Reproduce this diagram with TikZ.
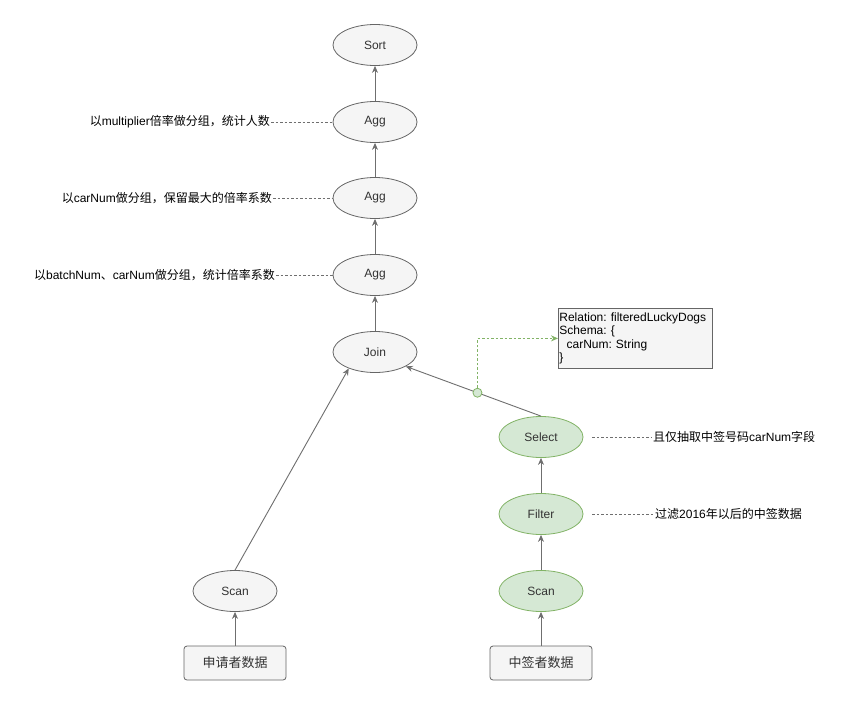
\documentclass[tikz,border=0pt]{standalone}
\usepackage{fontspec}
\setmainfont{Liberation Sans}
\newfontfamily\cjk{Noto Sans CJK SC}
\usetikzlibrary{arrows.meta,shapes.geometric}
\frenchspacing
\definecolor{gfill}{HTML}{F5F5F5}
\definecolor{gline}{HTML}{666666}
\definecolor{grfill}{HTML}{D5E8D4}
\definecolor{grline}{HTML}{82B366}
\definecolor{edgec}{HTML}{6F6F6F}
\definecolor{txt}{HTML}{333333}
\tikzset{
  op/.style={ellipse, draw=gline, fill=gfill, line width=0.8pt, minimum width=84pt, minimum height=41pt, inner sep=0pt, font=\fontsize{12}{14}\selectfont, text=txt},
  gop/.style={op, draw=grline, fill=grfill},
  src/.style={rectangle, rounded corners=3pt, draw=gline, fill=gfill, line width=0.8pt, minimum width=102pt, minimum height=34pt, inner sep=0pt, font=\fontsize{13}{15}\selectfont\cjk, text=txt},
  flow/.style={draw=edgec, line width=0.9pt, -{Stealth[length=7pt,width=6pt]}},
  note/.style={draw=edgec, dash pattern=on 2.5pt off 2pt, line width=0.7pt},
  gnote/.style={draw=grline, dash pattern=on 2.5pt off 2pt, line width=0.8pt, -{Stealth[length=7pt,width=6pt]}},
  lbl/.style={font=\fontsize{12}{14}\selectfont, text=black, inner sep=1pt},
  relbox/.style={rectangle, draw=gline, fill=gfill, line width=0.8pt, minimum width=154pt, minimum height=60pt, text width=152pt, inner sep=1pt, align=left, font=\fontsize{12}{13.5}\selectfont, text=black},
  dot/.style={circle, draw=grline, fill=grfill, line width=0.8pt, minimum size=9pt, inner sep=0pt}
}
\begin{document}
\begin{tikzpicture}[x=1pt,y=-1pt]
\useasboundingbox[fill=white] (0,0) rectangle (865,702);
% main column
\node[op] (sort) at (375,45) {Sort};
\node[op] (agg1) at (375,122) {Agg};
\node[op] (agg2) at (375,198) {Agg};
\node[op] (agg3) at (375,275) {Agg};
\node[op] (join) at (375,352) {Join};
% left branch
\node[op] (scanl) at (235,591) {Scan};
\node[src] (appl) at (235,663) {申请者数据};
% right branch
\node[gop] (select) at (541,437) {Select};
\node[gop] (filter) at (541,514) {Filter};
\node[gop] (scanr) at (541,591) {Scan};
\node[src] (lucky) at (541,663) {中签者数据};
% relation box
\node[relbox, anchor=north west] (rel) at (558,308) {Relation: filteredLuckyDogs\\Schema: \{\\\hspace*{0.6em}carNum: String\\\}};
% flows
\draw[flow] (agg1) -- (sort);
\draw[flow] (agg2) -- (agg1);
\draw[flow] (agg3) -- (agg2);
\draw[flow] (join) -- (agg3);
\draw[flow] (appl) -- (scanl);
\draw[flow] (scanl.north) -- (join.212);
\draw[flow] (lucky) -- (scanr);
\draw[flow] (scanr) -- (filter);
\draw[flow] (filter) -- (select);
\draw[flow] (select.north) -- node[dot, pos=0.47] (gp) {} (join.335);
\draw[gnote] (gp.north) |- (rel.west);
% annotations
\node[lbl, anchor=east] (l1) at (271,122) {{\cjk 以}multiplier{\cjk 倍率做分组，统计人数}};
\node[lbl, anchor=east] (l2) at (273,198) {{\cjk 以}carNum{\cjk 做分组，保留最大的倍率系数}};
\node[lbl, anchor=east] (l3) at (276,275) {{\cjk 以}batchNum{\cjk 、}carNum{\cjk 做分组，统计倍率系数}};
\node[lbl, anchor=west] (l4) at (652,437) {{\cjk 且仅抽取中签号码}carNum{\cjk 字段}};
\node[lbl, anchor=west] (l5) at (654,514) {{\cjk 过滤}2016{\cjk 年以后的中签数据}};
\draw[note] (l1.east) -- (agg1.west);
\draw[note] (l2.east) -- (agg2.west);
\draw[note] (l3.east) -- (agg3.west);
\draw[note, shorten <=9pt] (select.east) -- (l4.west);
\draw[note, shorten <=9pt] (filter.east) -- (l5.west);
\end{tikzpicture}
\end{document}
